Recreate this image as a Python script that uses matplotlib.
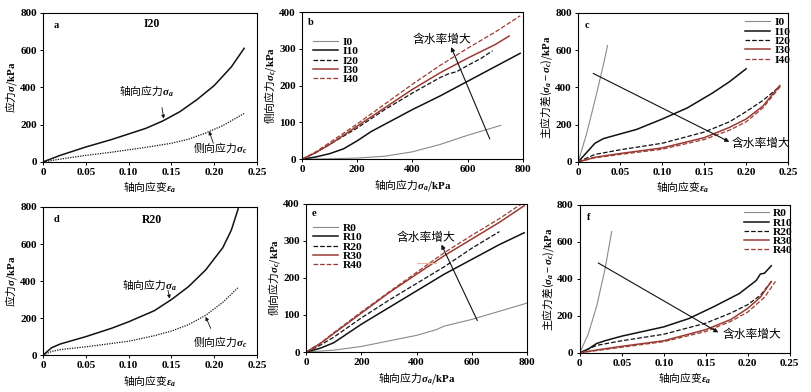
import matplotlib
matplotlib.use('Agg')
import matplotlib.pyplot as plt

plt.rcParams['font.family'] = ['Liberation Serif', 'Noto Sans CJK SC']
plt.rcParams['mathtext.fontset'] = 'custom'
plt.rcParams['mathtext.rm'] = 'Noto Sans CJK SC'
plt.rcParams['mathtext.it'] = 'Liberation Serif:italic:bold'
plt.rcParams['mathtext.bf'] = 'Liberation Serif:bold'
plt.rcParams['font.size'] = 8
plt.rcParams['axes.linewidth'] = 0.8

GREY = '#8a8a8a'
BLACK = '#111111'
BROWN = '#9a3b33'

# ---- panel a (I20) ----
a_eps_ax = [0, 0.02, 0.05, 0.08, 0.10, 0.12, 0.14, 0.16, 0.18, 0.20, 0.22, 0.235]
a_sig_ax = [0, 35, 80, 120, 150, 180, 220, 270, 335, 410, 510, 610]
a_eps_lat = [0, 0.02, 0.05, 0.08, 0.10, 0.12, 0.15, 0.17, 0.19, 0.21, 0.235]
a_sig_lat = [0, 15, 35, 52, 65, 78, 100, 122, 155, 195, 260]

# ---- panel b ----
b_series = {
    'I0': ([0, 100, 200, 300, 400, 500, 600, 720], [0, 1, 3, 8, 20, 40, 65, 92]),
    'I10': ([0, 50, 100, 150, 200, 250, 300, 400, 500, 600, 700, 790],
            [0, 6, 15, 28, 50, 75, 95, 135, 172, 212, 252, 288]),
    'I20': ([0, 50, 100, 200, 300, 400, 500, 530, 560, 600, 650, 690],
            [0, 18, 40, 85, 135, 180, 222, 232, 238, 255, 275, 295]),
    'I30': ([0, 50, 100, 200, 300, 400, 500, 600, 700, 750],
            [0, 18, 40, 90, 140, 190, 235, 275, 312, 335]),
    'I40': ([0, 50, 100, 200, 300, 400, 500, 600, 700, 790],
            [0, 20, 45, 96, 150, 204, 255, 302, 346, 390]),
}

# ---- panel c ----
c_series = {
    'I0': ([0, 0.01, 0.02, 0.03, 0.035], [0, 150, 330, 520, 625]),
    'I10': ([0, 0.01, 0.02, 0.03, 0.05, 0.07, 0.10, 0.13, 0.16, 0.18, 0.20],
            [0, 50, 100, 125, 150, 175, 230, 290, 370, 430, 500]),
    'I20': ([0, 0.02, 0.05, 0.10, 0.15, 0.18, 0.20, 0.22, 0.24],
            [0, 40, 65, 100, 160, 215, 270, 330, 405]),
    'I30': ([0, 0.02, 0.05, 0.10, 0.15, 0.18, 0.20, 0.22, 0.24],
            [0, 25, 45, 75, 130, 185, 230, 300, 410]),
    'I40': ([0, 0.02, 0.05, 0.10, 0.15, 0.18, 0.20, 0.22, 0.242],
            [0, 22, 40, 68, 120, 170, 215, 290, 412]),
}

# ---- panel d (R20) ----
d_eps_ax = [0, 0.01, 0.02, 0.05, 0.08, 0.10, 0.13, 0.15, 0.17, 0.19, 0.21, 0.22, 0.228]
d_sig_ax = [0, 40, 60, 100, 145, 180, 240, 300, 370, 460, 580, 675, 790]
d_eps_lat = [0, 0.01, 0.02, 0.05, 0.10, 0.13, 0.15, 0.17, 0.19, 0.21, 0.228]
d_sig_lat = [0, 20, 30, 45, 75, 105, 130, 165, 215, 285, 365]

# ---- panel e ----
e_series = {
    'R0': ([0, 100, 200, 300, 400, 470, 500, 600, 700, 800],
           [0, 5, 15, 30, 45, 60, 70, 88, 110, 132]),
    'R10': ([0, 50, 100, 200, 300, 400, 500, 600, 700, 790],
            [0, 10, 25, 75, 120, 165, 210, 250, 290, 322]),
    'R20': ([0, 50, 100, 200, 300, 400, 500, 600, 700],
            [0, 18, 40, 92, 140, 185, 230, 280, 325]),
    'R30': ([0, 50, 100, 200, 300, 400, 500, 600, 700, 790],
            [0, 22, 50, 105, 160, 210, 260, 305, 350, 395]),
    'R40': ([0, 50, 100, 200, 300, 400, 500, 600, 700, 780],
            [0, 23, 52, 108, 162, 215, 268, 315, 360, 400]),
}

# ---- panel f ----
f_series = {
    'R0': ([0, 0.01, 0.02, 0.03, 0.038], [0, 100, 250, 450, 655]),
    'R10': ([0, 0.01, 0.02, 0.03, 0.05, 0.10, 0.13, 0.16, 0.19, 0.21, 0.215, 0.22, 0.228],
            [0, 20, 50, 65, 90, 140, 185, 250, 320, 390, 425, 430, 470]),
    'R20': ([0, 0.02, 0.05, 0.10, 0.15, 0.18, 0.20, 0.215, 0.228],
            [0, 40, 65, 100, 160, 215, 260, 310, 385]),
    'R30': ([0, 0.02, 0.05, 0.10, 0.15, 0.18, 0.20, 0.215, 0.228],
            [0, 15, 35, 65, 125, 180, 240, 300, 385]),
    'R40': ([0, 0.02, 0.05, 0.10, 0.15, 0.18, 0.20, 0.22, 0.233],
            [0, 12, 30, 60, 115, 170, 220, 300, 385]),
}

styles = [dict(color=GREY, lw=0.8, ls='-'),
          dict(color=BLACK, lw=1.1, ls='-'),
          dict(color=BLACK, lw=0.9, ls='--'),
          dict(color=BROWN, lw=1.1, ls='-'),
          dict(color=BROWN, lw=0.9, ls='--')]

fig = plt.figure(figsize=(8.12, 3.92), dpi=100)

pos = {
    'a': [0.053, 0.587, 0.2635, 0.380],
    'b': [0.372, 0.594, 0.272, 0.375],
    'c': [0.712, 0.587, 0.2586, 0.380],
    'd': [0.053, 0.094, 0.2635, 0.378],
    'e': [0.377, 0.102, 0.272, 0.378],
    'f': [0.714, 0.100, 0.2586, 0.378],
}

LFS = 7.8
STRAIN = r'$\mathrm{轴向应变}\varepsilon_{a}$'
AXIAL = r'$\mathrm{轴向应力}\sigma_{a}$'
LATERAL = r'$\mathrm{侧向应力}\sigma_{c}$'

def style_ax(ax):
    ax.tick_params(direction='out', length=2.5, width=0.7, labelsize=8, pad=2)
    for lab in ax.get_xticklabels() + ax.get_yticklabels():
        lab.set_fontweight('bold')

def small_arrow(ax, tail, head):
    ax.annotate('', xy=head, xytext=tail,
                arrowprops=dict(arrowstyle='-|>', color=BLACK, lw=0.6, mutation_scale=5,
                                shrinkA=0, shrinkB=0))

def add_legend(ax, loc, anchor):
    leg = ax.legend(loc=loc, bbox_to_anchor=anchor, frameon=False,
                    fontsize=8.2, handlelength=2.2, handletextpad=0.4,
                    labelspacing=-0.06, borderaxespad=0, borderpad=0)
    for t in leg.get_texts():
        t.set_fontweight('bold')

def strain_panel(ax, ex, sx, el, sl, tag, name, name_y, txt_ax, arr_ax, txt_lat, arr_lat):
    ax.plot(ex, sx, color=BLACK, lw=1.1)
    ax.plot(el, sl, color=BLACK, lw=0.9, ls=(0, (1, 1)))
    ax.set_xlim(0, 0.25)
    ax.set_ylim(0, 800)
    ax.set_xticks([0, 0.05, 0.10, 0.15, 0.20, 0.25])
    ax.set_xticklabels(['0', '0.05', '0.10', '0.15', '0.20', '0.25'])
    ax.set_yticks([0, 200, 400, 600, 800])
    ax.set_xlabel(STRAIN, fontsize=LFS, labelpad=2)
    ax.set_ylabel(r'$\mathrm{应力}\sigma/\mathbf{kPa}$', fontsize=LFS, labelpad=1)
    ax.text(0.012, 755, tag, fontsize=7.5, fontweight='bold', va='top')
    ax.text(0.127, name_y, name, fontsize=8.5, fontweight='bold', ha='center', va='center')
    ax.text(txt_ax[0], txt_ax[1], AXIAL, fontsize=LFS, ha='center', va='center')
    small_arrow(ax, arr_ax[0], arr_ax[1])
    ax.text(txt_lat[0], txt_lat[1], LATERAL, fontsize=LFS, ha='center', va='center')
    small_arrow(ax, arr_lat[0], arr_lat[1])
    style_ax(ax)

def lateral_panel(ax, series, tag, arr_from, arr_to, txt_xy, leg_anchor, extra=None):
    for (lab, (x, y)), st in zip(series.items(), styles):
        ax.plot(x, y, label=lab, **st)
    ax.set_xlim(0, 800)
    ax.set_ylim(0, 400)
    ax.set_xticks([0, 200, 400, 600, 800])
    ax.set_yticks([0, 100, 200, 300, 400])
    ax.set_xlabel(r'$\mathrm{轴向应力}\sigma_{a}/\mathbf{kPa}$', fontsize=LFS, labelpad=2)
    ax.set_ylabel(r'$\mathrm{侧向应力}\sigma_{c}/\mathbf{kPa}$', fontsize=LFS, labelpad=1)
    ax.text(20, 385, tag, fontsize=7.5, fontweight='bold', va='top')
    ax.annotate('', xy=arr_to, xytext=arr_from,
                arrowprops=dict(arrowstyle='-|>', color=BLACK, lw=0.8, mutation_scale=6,
                                shrinkA=0, shrinkB=0))
    ax.text(txt_xy[0], txt_xy[1], '含水率增大', fontsize=8.5, ha='center', va='center')
    if extra is not None:
        ax.plot(extra[0], extra[1], color='#e8b9a0', lw=0.8)
    add_legend(ax, 'upper left', leg_anchor)
    style_ax(ax)

def diff_panel(ax, series, tag, arr_from, arr_to, txt_xy, leg_anchor):
    for (lab, (x, y)), st in zip(series.items(), styles):
        ax.plot(x, y, label=lab, **st)
    ax.set_xlim(0, 0.25)
    ax.set_ylim(0, 800)
    ax.set_xticks([0, 0.05, 0.10, 0.15, 0.20, 0.25])
    ax.set_xticklabels(['0', '0.05', '0.10', '0.15', '0.20', '0.25'])
    ax.set_yticks([0, 200, 400, 600, 800])
    ax.set_xlabel(STRAIN, fontsize=LFS, labelpad=2)
    ax.set_ylabel(r'$\mathrm{主应力差}(\sigma_{a}-\sigma_{c})/\mathbf{kPa}$', fontsize=LFS, labelpad=1)
    ax.text(0.008, 755, tag, fontsize=7.5, fontweight='bold', va='top')
    ax.annotate('', xy=arr_to, xytext=arr_from,
                arrowprops=dict(arrowstyle='-|>', color=BLACK, lw=0.8, mutation_scale=6,
                                shrinkA=0, shrinkB=0))
    ax.text(txt_xy[0], txt_xy[1], '含水率增大', fontsize=8.5, ha='left', va='center')
    add_legend(ax, 'upper right', leg_anchor)
    style_ax(ax)

ax_a = fig.add_axes(pos['a'])
strain_panel(ax_a, a_eps_ax, a_sig_ax, a_eps_lat, a_sig_lat, 'a', 'I20', 741,
             (0.121, 381), ((0.139, 292), (0.141, 232)),
             (0.207, 77), ((0.199, 100), (0.194, 165)))

ax_b = fig.add_axes(pos['b'])
lateral_panel(ax_b, b_series, 'b', (680, 55), (540, 305), (505, 325), (0.05, 0.83))

ax_c = fig.add_axes(pos['c'])
diff_panel(ax_c, c_series, 'c', (0.018, 475), (0.18, 108), (0.183, 95), (1.01, 0.97))

ax_d = fig.add_axes(pos['d'])
strain_panel(ax_d, d_eps_ax, d_sig_ax, d_eps_lat, d_sig_lat, 'd', 'R20', 730,
             (0.124, 384), ((0.146, 350), (0.148, 305)),
             (0.207, 72), ((0.196, 144), (0.19, 207)))

ax_e = fig.add_axes(pos['e'])
lateral_panel(ax_e, e_series, 'e', (620, 85), (490, 290), (435, 308), (0.03, 0.87),
              extra=([400, 470], [241, 241]))

ax_f = fig.add_axes(pos['f'])
diff_panel(ax_f, f_series, 'f', (0.022, 485), (0.165, 110), (0.17, 95), (1.015, 0.975))

fig.savefig('out.png', dpi=100)
